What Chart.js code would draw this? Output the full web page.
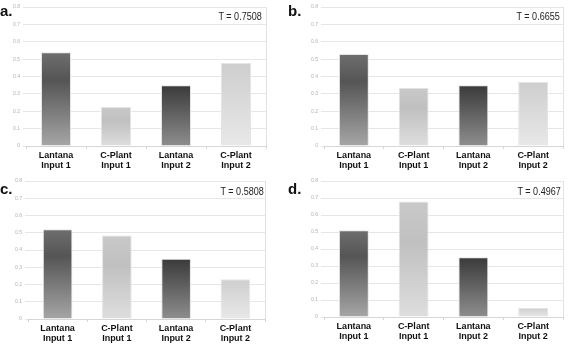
<!DOCTYPE html>
<html>
<head>
<meta charset="utf-8">
<script src="https://cdn.jsdelivr.net/npm/chart.js"></script>
<style>
  body { margin: 0; background: #fff; }
  #wrap { position: relative; width: 569px; height: 347px; overflow: hidden; font-family: "Liberation Sans", Arial, sans-serif; }
  .panel { position: absolute; }
  .panel canvas { position: absolute; left: 0; top: 0; }
  .letter { position: absolute; font-weight: bold; font-size: 15px; line-height: 1; color: #111; }
  .tval { position: absolute; font-size: 11px; line-height: 1; color: #222; white-space: nowrap;
          transform: scaleX(0.82); transform-origin: right top; }
</style>
</head>
<body>
<div id="wrap"></div>
<script>
// data
const categories = [['Lantana', 'Input 1'], ['C-Plant', 'Input 1'], ['Lantana', 'Input 2'], ['C-Plant', 'Input 2']];
const panelA = [0.54, 0.224, 0.35, 0.477];
const panelB = [0.53, 0.335, 0.35, 0.368];
const panelC = [0.52, 0.484, 0.35, 0.231];
const panelD = [0.51, 0.679, 0.351, 0.053];
const tValues = ['0.7508', '0.6655', '0.5808', '0.4967'];
const letters = ['a.', 'b.', 'c.', 'd.'];
const yMax = 0.8;
const yStep = 0.1;

// grey gradients for each bar, top -> bottom
const shades = [
  [[0, '#6e6e6e'], [0.3, '#555555'], [1, '#a6a6a6']],
  [[0, '#c9c9c9'], [0.35, '#c0c0c0'], [1, '#dedede']],
  [[0, '#3a3a3a'], [1, '#8e8e8e']],
  [[0, '#cecece'], [1, '#e8e8e8']]
];

// where each panel sits (left, top, w, h) and its axis sizes
const panels = [
  { data: panelA, left: 0,   top: 0,   w: 285, h: 175, padTop: 7,  padRight: 19, yw: 26, xh: 29, letterX: 0,   letterY: 3,   tRight: 307, tTop: 11 },
  { data: panelB, left: 285, top: 0,   w: 284, h: 175, padTop: 7,  padRight: 6,  yw: 39, xh: 29, letterX: 288, letterY: 3,   tRight: 9,   tTop: 11 },
  { data: panelC, left: 0,   top: 170, w: 285, h: 177, padTop: 11, padRight: 20, yw: 28, xh: 28, letterX: 0,   letterY: 181, tRight: 305, tTop: 186 },
  { data: panelD, left: 285, top: 170, w: 284, h: 177, padTop: 11, padRight: 6,  yw: 39, xh: 30, letterX: 288, letterY: 181, tRight: 8,   tTop: 186 }
];

function barFill(ctx) {
  const chart = ctx.chart;
  if (!chart.chartArea || ctx.raw === undefined) return '#999';
  const y = chart.scales.y;
  const top = y.getPixelForValue(ctx.raw);
  const base = y.getPixelForValue(0);
  const g = chart.ctx.createLinearGradient(0, top, 0, base);
  shades[ctx.dataIndex].forEach(s => g.addColorStop(s[0], s[1]));
  return g;
}

const frame = {
  id: 'frame',
  afterDatasetsDraw(chart) {
    const a = chart.chartArea;
    const c = chart.ctx;
    c.save();
    c.strokeStyle = '#e2e2e2';
    c.lineWidth = 1;
    c.beginPath();
    c.moveTo(Math.round(a.right) + 0.5, a.top);
    c.lineTo(Math.round(a.right) + 0.5, a.bottom);
    c.stroke();
    c.restore();
  }
};

const wrap = document.getElementById('wrap');

panels.forEach((p, i) => {
  const div = document.createElement('div');
  div.className = 'panel';
  div.style.left = p.left + 'px';
  div.style.top = p.top + 'px';
  div.style.width = p.w + 'px';
  div.style.height = p.h + 'px';
  const cv = document.createElement('canvas');
  cv.width = p.w;
  cv.height = p.h;
  div.appendChild(cv);
  wrap.appendChild(div);

  new Chart(cv.getContext('2d'), {
    type: 'bar',
    data: {
      labels: categories,
      datasets: [{
        data: p.data,
        backgroundColor: barFill,
        borderColor: '#e4e4e4',
        borderWidth: 1,
        barPercentage: 0.5,
        categoryPercentage: 1
      }]
    },
    plugins: [frame],
    options: {
      responsive: false,
      animation: false,
      layout: { padding: { top: p.padTop, right: p.padRight, left: 0, bottom: 0 } },
      plugins: { legend: { display: false }, tooltip: { enabled: false } },
      scales: {
        x: {
          afterFit: s => { s.height = p.xh; },
          grid: { drawOnChartArea: false, color: '#d6d6d6', tickLength: 3 },
          border: { color: '#d6d6d6' },
          ticks: {
            color: '#111',
            padding: 1,
            maxRotation: 0,
            font: { family: 'Liberation Sans', size: 9, weight: 'bold', lineHeight: 1.15 }
          }
        },
        y: {
          min: 0,
          max: yMax,
          afterFit: s => { s.width = p.yw; },
          grid: { color: '#e6e6e6', tickLength: 3 },
          border: { display: false },
          ticks: {
            stepSize: yStep,
            color: '#b0b0b0',
            padding: 3,
            font: { family: 'Liberation Sans', size: 5 },
            callback: v => v === 0 ? '0' : v.toFixed(1)
          }
        }
      }
    }
  });

  const lt = document.createElement('div');
  lt.className = 'letter';
  lt.textContent = letters[i];
  lt.style.left = p.letterX + 'px';
  lt.style.top = p.letterY + 'px';
  wrap.appendChild(lt);

  const tv = document.createElement('div');
  tv.className = 'tval';
  tv.textContent = 'T = ' + tValues[i];
  tv.style.right = p.tRight + 'px';
  tv.style.top = p.tTop + 'px';
  wrap.appendChild(tv);
});
</script>
</body>
</html>
